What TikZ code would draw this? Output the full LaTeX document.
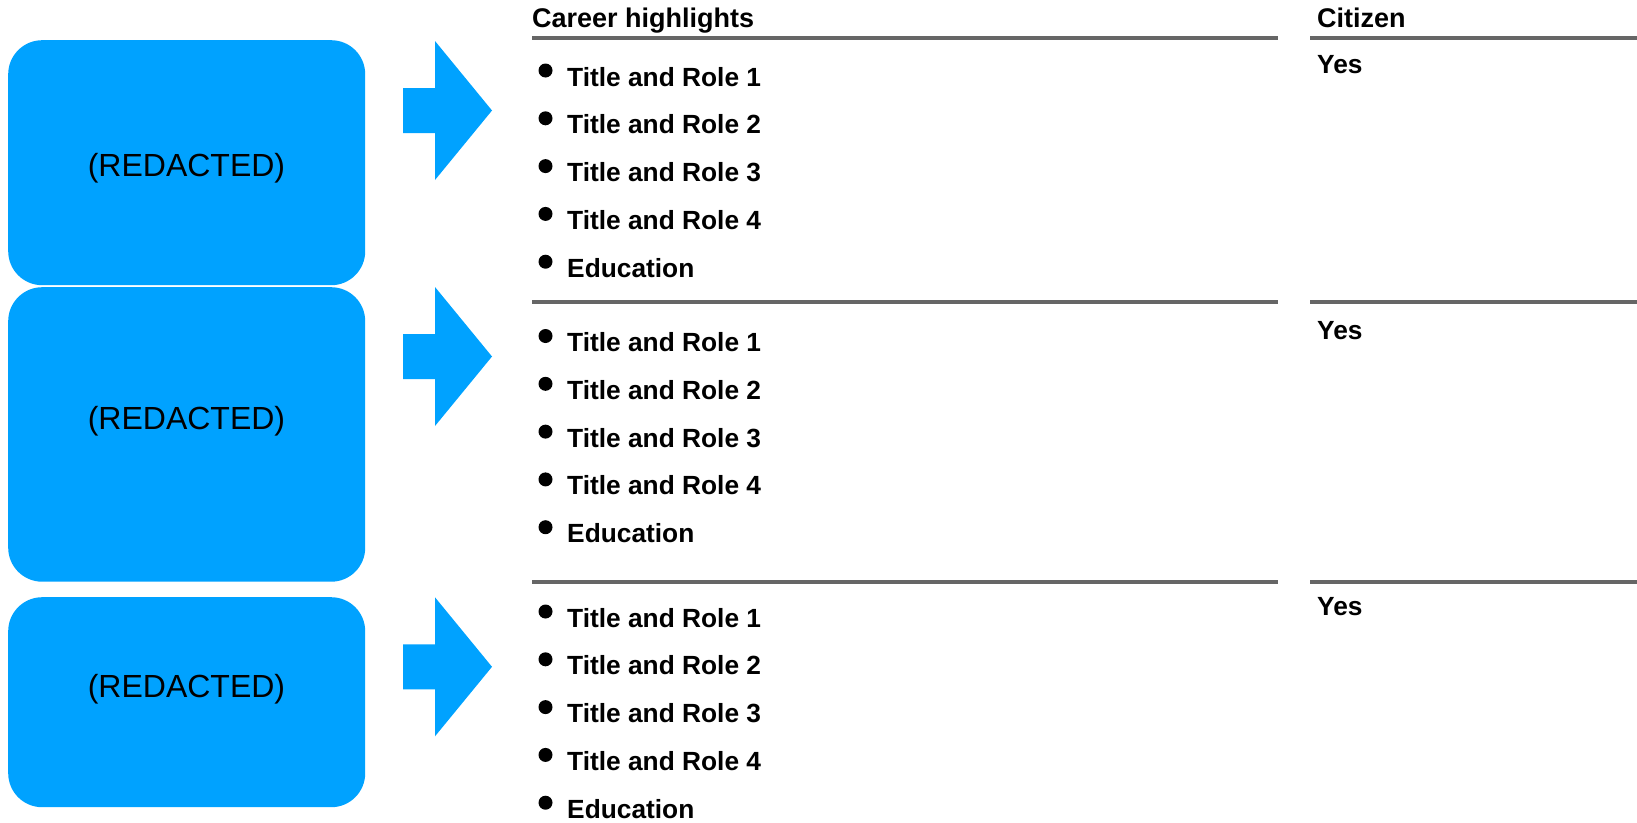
\documentclass[tikz,border=0pt]{standalone}
\usepackage{fontspec}
\setmainfont{Liberation Sans}
\begin{document}
\definecolor{boxblue}{RGB}{0,162,255}
\definecolor{rulegray}{RGB}{102,102,102}
\begin{tikzpicture}[x=1pt,y=-1pt,
  card/.style={fill=boxblue,draw=none,rounded corners=34pt,inner sep=0pt,
    minimum width=357pt,anchor=north west},
  cardtext/.style={font=\fontsize{32}{36}\selectfont,text=black,inner sep=0pt,anchor=base},
  head/.style={font=\fontsize{27}{31}\selectfont\bfseries,inner sep=0pt,anchor=base west},
  item/.style={font=\fontsize{26.3}{30}\selectfont\bfseries,inner sep=0pt,anchor=base west},
  dot/.style={circle,fill=black,inner sep=0pt,minimum size=14pt},
  rulebar/.style={draw=rulegray,line width=4pt},
  fatarrow/.style={fill=boxblue,draw=none}]
\useasboundingbox (0,0) rectangle (1637,822);

% left cards
\node[card,minimum height=245pt] (card1) at (8,40) {};
\node[card,minimum height=294.5pt] (card2) at (8,287) {};
\node[card,minimum height=210pt] (card3) at (8,597) {};
\node[cardtext] (cardlab1) at (186.5,176) {(REDACTED)};
\node[cardtext] (cardlab2) at (186.5,429.3) {(REDACTED)};
\node[cardtext] (cardlab3) at (186.5,697.7) {(REDACTED)};

% block arrows, given by the middle of their left edge
\foreach \n/\my in {1/110.5, 2/356.5, 3/666.8}{
  \coordinate (arr\n) at (403,\my);
  \fill[fatarrow] (arr\n) ++(0,-22.5) -- ++(32,0) -- ++(0,-47) -- ++(57,69.5)
     -- ++(-57,69.5) -- ++(0,-47) -- ++(-32,0) -- cycle;
}

% column headings
\node[head] (hcareer) at (532,27) {Career highlights};
\node[head] (hcitizen) at (1317,27.5) {Citizen};

% horizontal rules
\foreach \n/\ry in {1/38, 2/302, 3/582}{
  \coordinate (rl\n) at (532,\ry);
  \coordinate (rm\n) at (1278,\ry);
  \coordinate (rc\n) at (1310,\ry);
  \coordinate (rr\n) at (1637,\ry);
  \draw[rulebar] (rl\n) -- (rm\n);
  \draw[rulebar] (rc\n) -- (rr\n);
}

% citizen entries
\node[item] (yes1) at (1317,73) {Yes};
\node[item] (yes2) at (1317,339) {Yes};
\node[item] (yes3) at (1317,615) {Yes};

% bulleted career lists
\foreach \s/\base in {1/86, 2/351.5, 3/627}{
  \foreach \k/\txt in {1/Title and Role 1, 2/Title and Role 2, 3/Title and Role 3,
                       4/Title and Role 4, 5/Education}{
    \pgfmathsetmacro{\by}{\base+(\k-1)*47.8}
    \node[item] (it\s\k) at (567,\by) {\txt};
    \node[dot] (bul\s\k) at (545.5,\by-15.5) {};
  }
}
\end{tikzpicture}
\end{document}
